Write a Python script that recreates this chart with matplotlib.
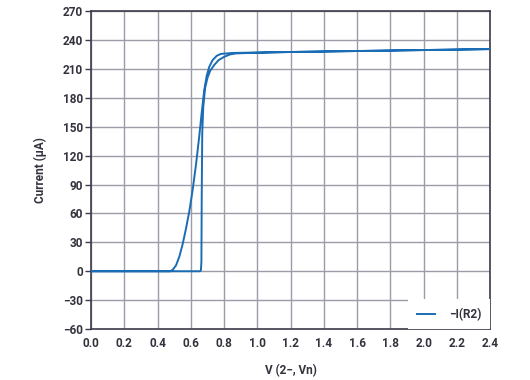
import numpy as np
import matplotlib
matplotlib.use('Agg')
import matplotlib.pyplot as plt

# sweep with the abrupt turn-on (left to right)
v_up = [0.0, 0.40, 0.655, 0.660, 0.663, 0.665, 0.668, 0.674, 0.685, 0.70, 0.716, 0.74, 0.766, 0.80, 0.836, 0.87, 0.95,
        1.2, 1.6, 2.0, 2.4]
i_up = [0.0, 0.0, 0.0, 1.0, 10.0, 80.0, 143.0, 170.0, 190.0, 201.0, 208.0, 214.0, 219.0, 222.5, 225.0, 226.0, 226.5,
        227.5, 228.5, 229.5, 230.5]

# sweep with the smooth foot (right to left)
v_dn = [2.4, 2.0, 1.6, 1.2, 0.95, 0.85, 0.78, 0.755, 0.73, 0.71, 0.695, 0.68, 0.665, 0.65, 0.63, 0.61, 0.59, 0.57,
        0.55, 0.53, 0.51, 0.49, 0.475, 0.40, 0.0]
i_dn = [230.5, 229.5, 228.5, 227.5, 226.8, 226.5, 225.5, 223.5, 219.0, 212.0, 203.0, 188.0, 165.0, 140.0, 110.0,
        84.0, 62.0, 44.0, 28.0, 15.0, 6.0, 1.5, 0.0, 0.0, 0.0]

v_all = v_up + v_dn
i_all = i_up + i_dn

plt.rcParams['font.family'] = ['Roboto', 'DejaVu Sans']
txt = '#33333d'
fw = 'bold'

fig = plt.figure(figsize=(5.3, 3.8), dpi=100)
ax = fig.add_axes([0.172, 0.134, 0.753, 0.837])

ax.plot(v_all, i_all, color='#1a6db5', lw=1.4, label='\u2212I(R2)', zorder=3)

ax.set_xlim(0, 2.4)
ax.set_ylim(-60, 270)
ax.set_xticks(np.arange(0, 2.41, 0.2))
ax.set_yticks(np.arange(-60, 271, 30))
ax.set_xticklabels(['%.1f' % x for x in np.arange(0, 2.41, 0.2)])
ax.set_yticklabels([str(y).replace('-', '\u2212') for y in range(-60, 271, 30)])
ax.grid(True, color='#9c9ca8', lw=1.0)
ax.set_axisbelow(True)
for s in ax.spines.values():
    s.set_color('#3c3c4c')
    s.set_linewidth(1.2)
ax.tick_params(axis='y', length=4, width=1, color='#3c3c4c', labelsize=8.5, labelcolor=txt, pad=2)
ax.tick_params(axis='x', length=0, labelsize=8.5, labelcolor=txt, pad=6)
for lab in ax.get_xticklabels() + ax.get_yticklabels():
    lab.set_fontweight(fw)

ax.set_xlabel('V (2\u2212, Vn)', fontsize=8.5, color=txt, fontweight=fw, labelpad=10)
ax.set_ylabel('Current (\u00b5A)', fontsize=8.5, color=txt, fontweight=fw, labelpad=11)

leg = ax.legend(loc='lower right', frameon=True, fontsize=8.5, handlelength=1.6, borderaxespad=0.3,
                handletextpad=1.2)
leg.get_frame().set_edgecolor('none')
leg.get_frame().set_facecolor('white')
leg.get_frame().set_alpha(1)
leg.get_frame().set_boxstyle('square', pad=0.3)
for t in leg.get_texts():
    t.set_color(txt)
    t.set_fontweight(fw)

fig.savefig('out.png', dpi=100)
